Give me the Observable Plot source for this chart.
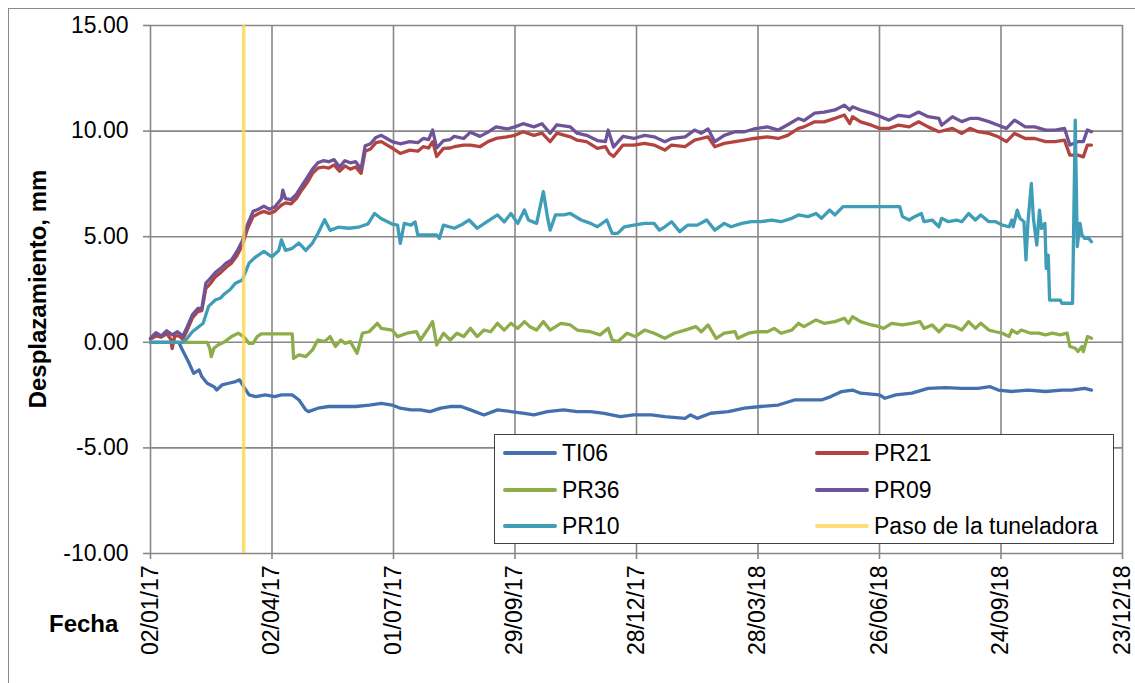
<!DOCTYPE html>
<html>
<head>
<meta charset="utf-8">
<script src="https://cdn.jsdelivr.net/npm/d3@7"></script>
<script src="https://cdn.jsdelivr.net/npm/@observablehq/plot@0.6"></script>
<style>
  body { margin: 0; background: #fff; font-family: "Liberation Sans", Arial, sans-serif; }
  #wrap { position: relative; width: 1135px; height: 683px; overflow: hidden; background: #fff; }
  #border { position: absolute; left: 8px; top: 8px; width: 1300px; height: 900px; border: 1px solid #8a8a8a; box-sizing: border-box; }
  #chart { position: absolute; left: 0; top: 0; }
  #ytitle { position: absolute; left: 38px; top: 289px; transform: translate(-50%, -50%) rotate(-90deg); font-weight: bold; font-size: 24px; white-space: nowrap; color: #000; }
  #xtitle { position: absolute; left: 49px; top: 610px; font-weight: bold; font-size: 24px; color: #000; }
  #legend { position: absolute; left: 494px; top: 434px; width: 620px; height: 110px; border: 1.5px solid #404040; background: #fff; box-sizing: border-box; }
  .item { position: absolute; height: 30px; display: flex; align-items: center; font-size: 23px; color: #000; white-space: nowrap; }
  .sw { width: 54px; height: 4px; border-radius: 2px; margin-right: 5px; }
</style>
</head>
<body>
<div id="wrap">
  <div id="border"></div>
  <div id="chart"></div>
  <div id="ytitle">Desplazamiento, mm</div>
  <div id="xtitle">Fecha</div>
  <div id="legend"></div>
</div>
<script>
// ---------- DATA (day offset from 02/01/2017, displacement in mm) ----------
const seriesNames = ["TI06", "PR21", "PR36", "PR09", "PR10"];
const tunnelLabel = "Paso de la tuneladora";
const tunnelDay = 69;

const ti06 = [[0,0],[21,0],[23,-0.28],[28,-0.91],[32,-1.47],[36,-1.31],[38,-1.62],[42,-1.94],[47,-2.1],[49,-2.26],[53,-2.02],[58,-1.94],[63,-1.86],[66,-1.78],[69,-2.1],[73,-2.49],[78,-2.57],[85,-2.49],[92,-2.57],[97,-2.49],[105,-2.49],[110,-2.73],[115,-3.2],[117,-3.28],[124,-3.12],[132,-3.04],[142,-3.04],[152,-3.04],[162,-2.97],[171,-2.89],[179,-2.97],[185,-3.12],[193,-3.2],[200,-3.2],[207,-3.28],[215,-3.12],[222,-3.04],[230,-3.04],[237,-3.2],[247,-3.44],[257,-3.2],[267,-3.28],[277,-3.36],[284,-3.44],[294,-3.28],[306,-3.2],[316,-3.28],[326,-3.28],[336,-3.36],[348,-3.52],[358,-3.44],[371,-3.44],[381,-3.52],[396,-3.6],[400,-3.44],[405,-3.6],[415,-3.36],[428,-3.28],[440,-3.12],[452,-3.04],[465,-2.97],[477,-2.73],[487,-2.73],[497,-2.73],[504,-2.57],[512,-2.33],[520,-2.26],[526,-2.41],[540,-2.49],[544,-2.65],[552,-2.49],[564,-2.41],[576,-2.18],[589,-2.15],[601,-2.18],[613,-2.18],[622,-2.1],[628,-2.26],[638,-2.33],[650,-2.26],[663,-2.33],[675,-2.26],[682,-2.26],[692,-2.18],[697,-2.26]];

const pr21 = [[0,0.15],[4,0.3],[8,0.25],[12,0.4],[15,0.15],[16,-0.3],[18,0.3],[21,0.3],[24,0.15],[27,0.55],[31,1.15],[35,1.45],[38,1.5],[41,2.55],[44,2.75],[48,3.1],[52,3.3],[56,3.55],[60,3.75],[64,4.1],[68,4.6],[72,5.4],[76,5.95],[80,6.1],[84,6.2],[88,6.1],[92,6.2],[97,6.5],[100,6.6],[104,6.55],[108,6.8],[112,7.2],[116,7.55],[120,8.0],[124,8.25],[128,8.3],[132,8.25],[136,8.4],[140,8.1],[144,8.35],[148,8.2],[152,8.3],[156,8.0],[159,9.05],[163,9.15],[167,9.45],[171,9.5],[175,9.35],[179,9.2],[185,8.94],[192,9.1],[198,9.05],[202,9.26],[206,9.2],[209,9.5],[212,8.8],[217,9.18],[222,9.2],[225,9.26],[232,9.34],[237,9.34],[244,9.26],[250,9.5],[256,9.65],[264,9.73],[270,9.8],[276,9.97],[284,9.8],[290,9.9],[296,9.5],[301,9.9],[311,9.73],[316,9.57],[323,9.5],[331,9.18],[337,9.26],[340,8.94],[343,8.8],[350,9.34],[358,9.34],[366,9.42],[373,9.34],[381,9.1],[386,9.34],[396,9.26],[403,9.57],[408,9.65],[413,9.73],[418,9.26],[425,9.42],[433,9.5],[440,9.57],[447,9.65],[457,9.73],[465,9.65],[472,9.8],[480,10.13],[484,10.2],[492,10.44],[499,10.44],[507,10.6],[514,10.76],[518,10.36],[520,10.68],[526,10.44],[534,10.28],[540,10.13],[547,10.13],[554,10.28],[562,10.2],[569,10.44],[576,10.2],[584,9.97],[594,10.13],[601,9.89],[607,10.13],[613,9.97],[621,9.89],[628,9.73],[634,9.5],[640,9.89],[648,9.65],[655,9.65],[663,9.5],[670,9.5],[677,9.57],[681,8.86],[687,8.86],[691,8.78],[694,9.34],[697,9.34]];

const pr36 = [[0,0],[42,0],[44,-0.3],[45,-0.68],[47,-0.28],[50,-0.13],[55,0.03],[60,0.27],[65,0.43],[69,0.27],[73,-0.05],[76,-0.05],[79,0.27],[82,0.4],[105,0.4],[106,-0.76],[110,-0.6],[115,-0.68],[120,-0.36],[124,0.11],[129,0.03],[133,0.27],[137,-0.2],[141,0.11],[144,-0.05],[148,0.03],[153,-0.52],[157,0.43],[162,0.5],[168,0.9],[171,0.66],[179,0.58],[183,0.27],[190,0.43],[197,0.5],[200,0.11],[205,0.58],[209,0.98],[212,-0.13],[217,0.43],[222,0.11],[227,0.43],[232,0.27],[237,0.66],[242,0.27],[247,0.58],[252,0.5],[257,0.9],[262,0.58],[267,0.9],[272,0.66],[277,0.98],[281,0.74],[286,0.58],[291,0.98],[296,0.58],[304,0.9],[311,0.82],[316,0.58],[326,0.5],[333,0.35],[339,0.66],[342,0.11],[346,0.03],[353,0.43],[359,0.27],[366,0.58],[373,0.43],[381,0.19],[388,0.43],[396,0.58],[404,0.74],[408,0.5],[413,0.82],[419,0.19],[425,0.43],[433,0.5],[435,0.19],[443,0.43],[450,0.5],[457,0.5],[462,0.66],[467,0.43],[475,0.58],[480,0.9],[484,0.74],[493,1.06],[499,0.9],[507,0.98],[514,1.14],[517,0.9],[520,1.21],[526,0.98],[534,0.82],[540,0.74],[543,0.66],[549,0.9],[557,0.82],[564,0.9],[570,0.98],[573,0.66],[579,0.82],[584,0.5],[589,0.82],[596,0.74],[601,0.58],[606,0.98],[611,0.66],[615,0.9],[621,0.58],[626,0.5],[631,0.43],[636,0.27],[638,0.58],[642,0.43],[645,0.58],[652,0.43],[658,0.43],[663,0.35],[668,0.43],[674,0.35],[679,0.43],[681,-0.2],[685,-0.28],[687,-0.44],[690,-0.2],[691,-0.44],[694,0.27],[697,0.19]];

const pr09 = [[0,0.2],[4,0.45],[8,0.3],[12,0.55],[16,0.35],[20,0.5],[24,0.3],[27,0.7],[31,1.3],[35,1.6],[38,1.6],[41,2.8],[44,3.0],[48,3.3],[52,3.5],[56,3.75],[60,3.9],[64,4.3],[68,4.8],[72,5.6],[76,6.2],[80,6.3],[84,6.45],[88,6.3],[92,6.4],[97,6.8],[98,7.2],[100,6.8],[104,6.75],[108,7.0],[112,7.4],[116,7.8],[120,8.2],[124,8.5],[128,8.6],[132,8.55],[136,8.65],[140,8.3],[144,8.6],[148,8.5],[152,8.55],[156,8.2],[159,9.3],[163,9.4],[167,9.7],[171,9.8],[175,9.65],[179,9.5],[185,9.4],[192,9.5],[198,9.45],[202,9.65],[206,9.6],[209,10.05],[212,9.2],[217,9.55],[222,9.6],[225,9.75],[232,9.65],[237,9.95],[244,9.75],[250,9.95],[256,10.2],[264,10.1],[270,10.2],[276,10.35],[284,10.2],[290,10.35],[296,9.9],[301,10.3],[311,10.2],[316,9.9],[323,9.8],[331,9.55],[337,9.5],[339,10.05],[343,9.25],[350,9.75],[358,9.65],[366,9.8],[373,9.73],[381,9.5],[386,9.65],[396,9.73],[403,10.05],[408,9.9],[413,10.1],[418,9.5],[425,9.8],[433,9.97],[440,9.97],[447,10.1],[457,10.2],[465,10.05],[472,10.3],[480,10.6],[484,10.5],[492,10.85],[499,10.9],[507,11.0],[514,11.23],[518,11.0],[520,11.15],[526,11.0],[534,10.85],[540,10.7],[547,10.52],[554,10.75],[562,10.68],[569,10.9],[576,10.68],[584,10.6],[586,10.28],[594,10.68],[601,10.45],[607,10.6],[613,10.6],[621,10.45],[628,10.28],[634,10.13],[640,10.52],[648,10.2],[655,10.2],[663,10.05],[670,10.05],[677,10.13],[681,9.34],[687,9.5],[691,9.5],[694,10.05],[697,9.97]];

const pr10 = [[0,0],[23,0],[26,0.1],[31,0.5],[36,0.75],[39,0.9],[43,1.7],[48,2.0],[52,2.1],[55,2.3],[59,2.5],[63,2.8],[68,2.95],[73,3.75],[78,4.05],[84,4.3],[90,4.05],[95,4.35],[97,4.85],[100,4.35],[105,4.45],[110,4.7],[115,4.35],[120,4.7],[124,5.15],[129,5.8],[133,5.3],[139,5.45],[147,5.4],[154,5.45],[161,5.6],[166,6.1],[171,5.85],[179,5.6],[183,5.55],[185,4.68],[188,5.63],[193,5.55],[196,5.7],[198,5.08],[212,5.08],[214,4.92],[217,5.55],[225,5.4],[230,5.55],[236,5.79],[242,5.4],[249,5.7],[257,6.03],[262,5.7],[267,6.1],[272,5.63],[277,6.26],[280,5.79],[286,5.63],[291,7.13],[294,5.95],[296,5.31],[300,6.03],[306,6.03],[311,6.1],[319,5.79],[326,5.63],[331,5.47],[338,5.79],[342,5.16],[346,5.16],[351,5.47],[358,5.55],[366,5.63],[373,5.63],[377,5.31],[381,5.47],[386,5.71],[392,5.24],[398,5.55],[405,5.55],[412,5.79],[418,5.31],[425,5.63],[430,5.47],[438,5.63],[445,5.71],[452,5.71],[460,5.79],[467,5.71],[475,5.87],[480,6.03],[487,5.95],[493,6.1],[497,5.87],[503,6.26],[507,6.03],[513,6.42],[555,6.42],[557,5.95],[562,5.79],[566,5.95],[571,6.1],[573,5.71],[579,5.79],[584,5.47],[586,5.87],[591,5.71],[597,5.79],[601,5.71],[606,6.1],[611,5.79],[615,6.03],[621,5.71],[626,5.71],[631,5.55],[636,5.47],[638,5.79],[639,5.47],[642,6.26],[644,5.87],[647,5.71],[648.5,3.9],[650,5.71],[652.5,7.52],[654,5.87],[656.5,4.6],[658.5,6.26],[660,5.39],[662.5,5.63],[663.5,3.5],[665,4.13],[666,2.0],[674,2.0],[675,1.85],[683,1.85],[685,10.52],[686.5,4.53],[688.5,5.63],[690,5.08],[692,4.92],[695,4.92],[697,4.76]];

const seriesData = [ti06, pr21, pr36, pr09, pr10];

const xTicks = ["2017-01-02","2017-04-02","2017-07-01","2017-09-29","2017-12-28","2018-03-28","2018-06-26","2018-09-24","2018-12-23"];
const yTicks = [-10, -5, 0, 5, 10, 15];

// ---------- STYLE ----------
const colors = ["#4470AD", "#B3433F", "#8DAD4A", "#6F5398", "#3F9DB8"];
const tunnelColor = "#FFD54F";

const start = Date.UTC(2017, 0, 2);
const toDate = d => new Date(start + d * 864e5);
const tickDates = xTicks.map(s => new Date(s + "T00:00:00Z"));
const fmt = d3.utcFormat("%d/%m/%y");

const lines = seriesData.map((arr, i) =>
  Plot.line(arr.map(([d, v]) => ({date: toDate(d), value: v})), {
    x: "date", y: "value", stroke: colors[i], strokeWidth: 3.3,
    strokeLinejoin: "round", strokeLinecap: "round"
  })
);

const chart = Plot.plot({
  width: 1135,
  height: 683,
  marginLeft: 150,
  marginRight: 13,
  marginTop: 25,
  marginBottom: 130,
  style: {fontSize: "23px", fontFamily: "'Liberation Sans', Arial, sans-serif", color: "#000", background: "transparent", overflow: "visible"},
  x: {type: "utc", domain: [tickDates[0], tickDates[tickDates.length - 1]]},
  y: {domain: [-10, 15]},
  marks: [
    Plot.gridY(yTicks, {stroke: "#878787", strokeOpacity: 1, strokeWidth: 1.6}),
    Plot.gridX(tickDates, {stroke: "#878787", strokeOpacity: 1, strokeWidth: 1.6}),
    Plot.axisY(yTicks, {tickSize: 7, tickPadding: 15, tickFormat: d => d.toFixed(2), label: null, stroke: "#878787", strokeWidth: 1.6}),
    Plot.axisX(tickDates, {tickSize: 6, tickPadding: 6, tickRotate: -90, tickFormat: fmt, label: null, stroke: "#878787", strokeWidth: 1.6}),
    ...lines,
    Plot.ruleX([toDate(tunnelDay)], {stroke: tunnelColor, strokeWidth: 3.5, strokeOpacity: 0.8})
  ]
});
document.getElementById("chart").appendChild(chart);

// ---------- LEGEND ----------
const legendItems = [
  {name: seriesNames[0], color: colors[0]},
  {name: seriesNames[1], color: colors[1]},
  {name: seriesNames[2], color: colors[2]},
  {name: seriesNames[3], color: colors[3]},
  {name: seriesNames[4], color: colors[4]},
  {name: tunnelLabel, color: "#FFDE79"}
];
const legend = document.getElementById("legend");
const colX = [8, 320];
const rowY = [3, 40, 76];
legendItems.forEach((it, i) => {
  const el = document.createElement("div");
  el.className = "item";
  el.style.left = colX[i % 2] + "px";
  el.style.top = rowY[Math.floor(i / 2)] + "px";
  const sw = document.createElement("div");
  sw.className = "sw";
  sw.style.background = it.color;
  const tx = document.createElement("span");
  tx.textContent = it.name;
  el.appendChild(sw);
  el.appendChild(tx);
  legend.appendChild(el);
});
</script>
</body>
</html>
